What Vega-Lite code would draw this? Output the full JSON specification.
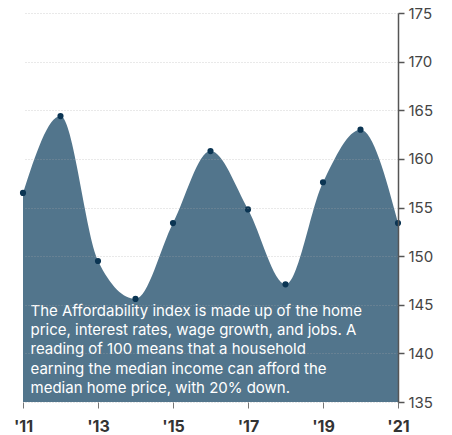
{
  "$schema": "https://vega.github.io/schema/vega-lite/v6.json",
  "width": 375,
  "height": 389,
  "autosize": {"type": "none"},
  "padding": {"left": 23, "top": 13, "right": 54, "bottom": 33},
  "background": "white",
  "config": {"view": {"stroke": null}, "font": "Inter"},
  "datasets": {
    "idx": [
      {"year": 2011, "value": 156.5},
      {"year": 2012, "value": 164.4},
      {"year": 2013, "value": 149.5},
      {"year": 2014, "value": 145.6},
      {"year": 2015, "value": 153.4},
      {"year": 2016, "value": 160.8},
      {"year": 2017, "value": 154.8},
      {"year": 2018, "value": 147.1},
      {"year": 2019, "value": 157.6},
      {"year": 2020, "value": 163.0},
      {"year": 2021, "value": 153.4}
    ],
    "note": [
      {"year": 2011.2, "value": 145.1, "text": ["The Affordability index is made up of the home", "price, interest rates, wage growth, and jobs. A", "reading of 100 means that a household", "earning the median income can afford the", "median home price, with 20% down."]}
    ]
  },
  "layer": [
    {
      "data": {"name": "idx"},
      "mark": {"type": "area", "interpolate": "monotone", "color": "#52758c", "opacity": 1, "clip": true},
      "encoding": {
        "x": {
          "field": "year", "type": "quantitative",
          "scale": {"domain": [2011, 2021], "nice": false, "zero": false},
          "axis": {
            "values": [2011, 2013, 2015, 2017, 2019, 2021],
            "labelExpr": "\"'\" + substring(toString(datum.value), 2)",
            "title": null, "grid": false, "domain": false,
            "ticks": true, "tickSize": 6, "tickColor": "#777",
            "labelFontSize": 16, "labelFontWeight": "bold", "labelColor": "#333",
            "labelPadding": 10, "labelFlush": false, "labelOverlap": false, "labelBound": false
          }
        },
        "y": {
          "field": "value", "type": "quantitative",
          "scale": {"domain": [135, 175], "nice": false, "zero": false},
          "axis": {
            "orient": "right",
            "values": [135, 140, 145, 150, 155, 160, 165, 170, 175],
            "title": null,
            "grid": true, "gridColor": "#aaaaaa", "gridOpacity": 0.5, "gridDash": [1, 2], "gridWidth": 1,
            "domain": true, "domainColor": "#555", "domainWidth": 1.5,
            "tickColor": "#555", "tickSize": 6, "tickWidth": 1.5,
            "labelFontSize": 15, "labelColor": "#444", "labelPadding": 4,
            "zindex": 1
          }
        }
      }
    },
    {
      "data": {"name": "idx"},
      "mark": {"type": "point", "filled": true, "color": "#0b3553", "size": 38, "opacity": 1},
      "encoding": {
        "x": {"field": "year", "type": "quantitative"},
        "y": {"field": "value", "type": "quantitative"}
      }
    },
    {
      "data": {"name": "note"},
      "mark": {"type": "text", "align": "left", "baseline": "top", "color": "white", "fontSize": 15, "lineHeight": 19.3},
      "encoding": {
        "x": {"field": "year", "type": "quantitative"},
        "y": {"field": "value", "type": "quantitative"},
        "text": {"field": "text"}
      }
    }
  ]
}
